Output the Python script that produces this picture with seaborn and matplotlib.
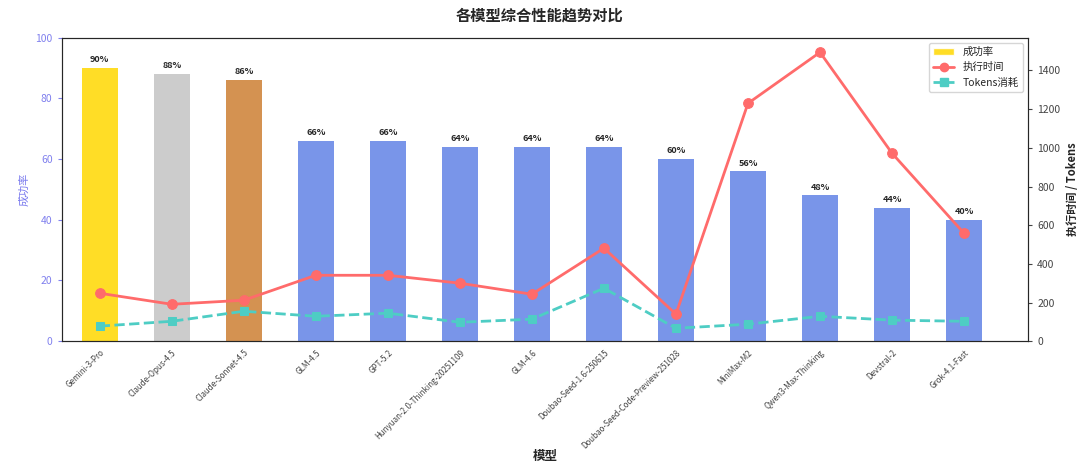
import numpy as np
import pandas as pd
import matplotlib
matplotlib.use("Agg")
import matplotlib.pyplot as plt
import seaborn as sns
from matplotlib.lines import Line2D
from matplotlib.patches import Patch

models = ["Gemini-3-Pro", "Claude-Opus-4.5", "Claude-Sonnet-4.5", "GLM-4.5", "GPT-5.2",
          "Hunyuan-2.0-Thinking-20251109", "GLM-4.6", "Doubao-Seed-1.6-250615",
          "Doubao-Seed-Code-Preview-251028", "MiniMax-M2", "Qwen3-Max-Thinking",
          "Devstral-2", "Grok-4.1-Fast"]
success_rate = [90, 88, 86, 66, 66, 64, 64, 64, 60, 56, 48, 44, 40]
exec_time = [248, 191, 212, 341, 341, 300, 243, 481, 140, 1230, 1494, 972, 558]
tokens = [78, 103, 155, 129, 145, 98, 114, 274, 67, 88, 129, 109, 103]

sns.set_style("white")
plt.rcParams['font.family'] = ['Noto Sans CJK SC', 'DejaVu Sans']

bar_colors = ["#FFD700", "#C0C0C0", "#CD7F32"] + ["#4169E1"] * 10

fig, ax = plt.subplots(figsize=(10.8, 4.7), dpi=100)
fig.subplots_adjust(left=0.057, right=0.952, top=0.92, bottom=0.274)

df = pd.DataFrame({"model": models, "rate": success_rate})
sns.barplot(data=df, x="model", y="rate", hue="model", palette=bar_colors,
            legend=False, width=0.5, ax=ax, saturation=1)
alphas = [0.85, 0.8, 0.85] + [0.7] * 10
for p, a in zip(ax.patches, alphas):
    p.set_alpha(a)
    p.set_edgecolor("none")
for i, v in enumerate(success_rate):
    ax.text(i, v + 1.2, f"{v}%", ha="center", va="bottom", fontsize=6.5, fontweight="bold")

ax.set_ylim(0, 100)
ax.set_xlim(-0.53, 12.89)
ax.set_ylabel("成功率", color="#7B7BEE", fontsize=8)
ax.set_xlabel("模型", fontsize=9, fontweight="bold", labelpad=0)
ax.tick_params(axis="y", colors="#8080EE", labelsize=7.5, length=3)
ax.tick_params(axis="x", labelsize=5.8, length=3, pad=2, colors="#444444")
for lbl in ax.get_xticklabels():
    lbl.set_rotation(45)
    lbl.set_ha("right")
    lbl.set_rotation_mode("anchor")
for s in ax.spines.values():
    s.set_color("#555555")

ax2 = ax.twinx()
x = np.arange(len(models))
sns.lineplot(x=x, y=exec_time, ax=ax2, color="#FF6B6B", marker="o", markersize=7,
             linewidth=2, markeredgecolor="#FF6B6B")
sns.lineplot(x=x, y=tokens, ax=ax2, color="#4ECDC4", marker="s", markersize=6,
             linewidth=2, linestyle="--", markeredgecolor="#4ECDC4")
ax2.set_ylim(0, 1570)
ax2.set_yticks(range(0, 1401, 200))
ax2.set_ylabel("执行时间 / Tokens", fontsize=8, fontweight="bold")
ax2.tick_params(axis="y", labelsize=7.5, colors="#444444", length=3)
ax2.set_xlim(-0.53, 12.89)

handles = [Patch(facecolor="#FFD700", alpha=0.85, label="成功率"),
           Line2D([0], [0], color="#FF6B6B", marker="o", lw=2, label="执行时间"),
           Line2D([0], [0], color="#4ECDC4", marker="s", lw=2, linestyle="--", label="Tokens消耗")]
ax2.legend(handles=handles, loc="upper right", fontsize=7.5, frameon=True)

fig.suptitle("各模型综合性能趋势对比", fontsize=11, fontweight="bold", y=0.985)
fig.savefig("out.png", dpi=100)
